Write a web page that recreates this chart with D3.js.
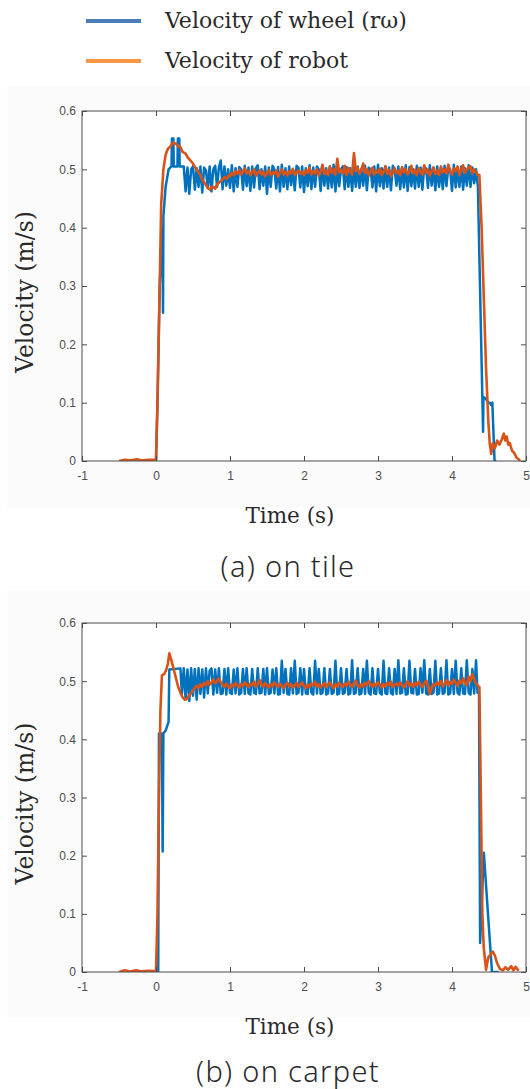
<!DOCTYPE html>
<html>
<head>
<meta charset="utf-8">
<script src="https://cdn.jsdelivr.net/npm/d3@7"></script>
<style>
  body { margin: 0; background: #fff; }
  svg { display: block; }
</style>
</head>
<body>
<svg id="fig" width="530" height="1089"></svg>
<script>
// ---- Axes ----
const xTicks = [-1, 0, 1, 2, 3, 4, 5];
const xTickLabels = ["-1", "0", "1", "2", "3", "4", "5"];
const yTicks = [0, 0.1, 0.2, 0.3, 0.4, 0.5, 0.6];
const yTickLabels = ["0", "0.1", "0.2", "0.3", "0.4", "0.5", "0.6"];

const seriesNames = ["Velocity of wheel (r\u03c9)", "Velocity of robot"];
const captions = ["(a) on tile", "(b) on carpet"];

// Sample period of the steady-state recordings (s)
const sampleStep = 0.025;

// ---- (a) on tile ----
// [time (s), velocity (m/s)]
const tileWheelHead = [
  [-0.15, 0], [0, 0], [0.02, 0.1], [0.05, 0.3], [0.085, 0.4], [0.095, 0.254],
  [0.10, 0.42], [0.13, 0.47], [0.17, 0.5], [0.21, 0.505], [0.215, 0.553],
  [0.235, 0.553], [0.24, 0.505], [0.29, 0.505], [0.295, 0.553], [0.315, 0.553],
  [0.32, 0.505], [0.35, 0.505]
];
const tileWheelStart = 0.375;
const tileWheelSteady = [
  0.505,0.462,0.503,0.458,0.500,0.505,0.465,0.502,0.470,0.505,
  0.460,0.503,0.498,0.468,0.505,0.462,0.500,0.506,0.470,0.503,
  0.515,0.466,0.505,0.472,0.500,0.468,0.507,0.462,0.502,0.470,
  0.504,0.500,0.465,0.506,0.471,0.503,0.463,0.505,0.469,0.502,
  0.507,0.466,0.500,0.472,0.505,0.458,0.503,0.470,0.506,0.500,
  0.467,0.504,0.462,0.508,0.470,0.502,0.466,0.505,0.473,0.500,
  0.464,0.506,0.503,0.469,0.505,0.461,0.502,0.471,0.507,0.466,
  0.503,0.470,0.505,0.500,0.463,0.506,0.472,0.502,0.467,0.505,
  0.469,0.508,0.462,0.503,0.471,0.500,0.505,0.466,0.504,0.470,
  0.502,0.463,0.507,0.470,0.505,0.468,0.501,0.472,0.506,0.464,
  0.503,0.500,0.469,0.505,0.462,0.508,0.471,0.502,0.467,0.505,
  0.470,0.503,0.464,0.506,0.500,0.472,0.505,0.466,0.502,0.469,
  0.507,0.463,0.504,0.471,0.500,0.467,0.506,0.470,0.503,0.465,
  0.505,0.501,0.468,0.507,0.472,0.503,0.464,0.505,0.470,0.502,
  0.466,0.506,0.471,0.504,0.500,0.463,0.508,0.469,0.503,0.470,
  0.505,0.465,0.502,0.472,0.507,0.470,0.503,0.476,0.500
];
const tileWheelTail = [
  [4.35, 0.47], [4.42, 0.05], [4.425, 0.11], [4.46, 0.106], [4.49, 0.1],
  [4.51, 0.1], [4.53, 0.096], [4.545, 0.1], [4.575, 0], [4.6, 0]
];

const tileRobotHead = [
  [-0.5, 0], [-0.42, 0.002], [-0.34, 0.001], [-0.26, 0.003], [-0.18, 0.001],
  [-0.1, 0.002], [0, 0.002], [0.02, 0.1], [0.05, 0.3], [0.07, 0.44],
  [0.1, 0.5], [0.13, 0.525], [0.16, 0.535], [0.2, 0.54], [0.23, 0.546],
  [0.27, 0.544], [0.3, 0.54], [0.33, 0.538], [0.36, 0.53], [0.4, 0.527],
  [0.43, 0.52], [0.46, 0.516], [0.5, 0.51], [0.53, 0.503], [0.56, 0.498],
  [0.6, 0.49], [0.63, 0.481], [0.66, 0.476], [0.7, 0.468], [0.73, 0.465],
  [0.76, 0.471], [0.8, 0.467], [0.83, 0.475], [0.86, 0.478], [0.9, 0.483],
  [0.93, 0.487], [0.96, 0.484], [0.98, 0.49]
];
const tileRobotStart = 1.0;
const tileRobotSteady = [
  0.488,0.494,0.490,0.497,0.492,0.499,0.491,0.496,0.502,0.493,
  0.497,0.490,0.495,0.500,0.489,0.494,0.498,0.491,0.496,0.488,
  0.493,0.499,0.490,0.495,0.492,0.498,0.487,0.494,0.500,0.491,
  0.496,0.489,0.497,0.493,0.501,0.490,0.495,0.498,0.492,0.496,
  0.490,0.499,0.494,0.503,0.491,0.497,0.493,0.500,0.489,0.496,
  0.508,0.492,0.498,0.490,0.505,0.494,0.500,0.491,0.518,0.495,
  0.499,0.493,0.506,0.490,0.502,0.496,0.491,0.528,0.497,0.503,
  0.492,0.499,0.510,0.494,0.500,0.489,0.497,0.503,0.491,0.498,
  0.494,0.501,0.490,0.496,0.505,0.492,0.499,0.488,0.495,0.502,
  0.493,0.498,0.490,0.504,0.495,0.500,0.491,0.497,0.506,0.493,
  0.499,0.490,0.502,0.496,0.491,0.507,0.494,0.500,0.489,0.497,
  0.503,0.492,0.498,0.490,0.505,0.495,0.500,0.493,0.508,0.496,
  0.491,0.502,0.497,0.505,0.490,0.500,0.507,0.494,0.499,0.503,
  0.505,0.493,0.500,0.496,0.490
];
const tileRobotTail = [
  [4.37, 0.49], [4.4, 0.4], [4.43, 0.28], [4.46, 0.16], [4.49, 0.07],
  [4.51, 0.03], [4.53, 0.012], [4.55, 0.03], [4.58, 0.022], [4.61, 0.035],
  [4.64, 0.028], [4.67, 0.036], [4.7, 0.047], [4.72, 0.035], [4.74, 0.042],
  [4.76, 0.028], [4.78, 0.031], [4.81, 0.018], [4.84, 0.014], [4.87, 0.006],
  [4.9, 0.003], [4.92, 0]
];

// ---- (b) on carpet ----
const carpetWheelHead = [
  [-0.15, 0], [0, 0], [0.03, 0], [0.04, 0.41], [0.08, 0.41], [0.09, 0.207],
  [0.1, 0.41], [0.13, 0.415], [0.17, 0.43], [0.18, 0.52], [0.33, 0.522]
];
const carpetWheelStart = 0.35;
const carpetWheelSteady = [
  0.478,0.522,0.470,0.520,0.466,0.522,0.475,0.521,0.468,0.522,
  0.478,0.520,0.472,0.522,0.479,0.518,0.522,0.477,0.520,0.480,
  0.522,0.478,0.479,0.521,0.477,0.522,0.480,0.478,0.520,0.479,
  0.522,0.477,0.480,0.521,0.478,0.522,0.479,0.477,0.521,0.480,
  0.478,0.522,0.479,0.480,0.521,0.477,0.522,0.478,0.480,0.520,
  0.479,0.522,0.477,0.478,0.535,0.480,0.521,0.478,0.477,0.522,
  0.479,0.535,0.478,0.480,0.522,0.477,0.521,0.479,0.478,0.522,
  0.480,0.477,0.535,0.479,0.521,0.478,0.480,0.522,0.477,0.479,
  0.521,0.478,0.480,0.535,0.477,0.479,0.522,0.478,0.480,0.521,
  0.477,0.479,0.536,0.478,0.480,0.522,0.477,0.479,0.521,0.478,
  0.535,0.480,0.477,0.522,0.479,0.478,0.521,0.480,0.477,0.535,
  0.479,0.478,0.522,0.480,0.477,0.521,0.478,0.536,0.479,0.480,
  0.522,0.477,0.478,0.535,0.480,0.479,0.521,0.477,0.478,0.522,
  0.480,0.536,0.479,0.477,0.521,0.478,0.480,0.535,0.477,0.479,
  0.522,0.478,0.480,0.536,0.477,0.479,0.521,0.478,0.535,0.480,
  0.477,0.522,0.479,0.478,0.536,0.480,0.477,0.521,0.479,0.536
];
const carpetWheelTail = [
  [4.345, 0.48], [4.365, 0.48], [4.38, 0.05], [4.43, 0.205], [4.54, 0], [4.63, 0]
];

const carpetRobotHead = [
  [-0.5, 0], [-0.42, 0.003], [-0.35, 0.001], [-0.27, 0.003], [-0.2, 0.001],
  [-0.1, 0.002], [0, 0.001], [0.02, 0.1], [0.04, 0.3], [0.06, 0.45],
  [0.08, 0.51], [0.11, 0.512], [0.14, 0.52], [0.16, 0.53], [0.18, 0.548],
  [0.21, 0.535], [0.24, 0.52], [0.27, 0.505], [0.3, 0.49], [0.33, 0.48],
  [0.36, 0.472], [0.39, 0.468], [0.42, 0.47], [0.45, 0.476], [0.48, 0.48],
  [0.51, 0.486], [0.53, 0.49]
];
const carpetRobotStart = 0.55;
const carpetRobotSteady = [
  0.492,0.488,0.495,0.490,0.497,0.493,0.500,0.494,0.498,0.503,
  0.496,0.500,0.505,0.498,0.494,0.490,0.496,0.492,0.488,0.494,
  0.491,0.497,0.493,0.489,0.495,0.492,0.498,0.494,0.490,0.496,
  0.493,0.499,0.491,0.495,0.502,0.494,0.490,0.497,0.493,0.489,
  0.495,0.491,0.498,0.494,0.490,0.496,0.492,0.488,0.494,0.497,
  0.491,0.495,0.489,0.493,0.497,0.490,0.494,0.498,0.492,0.488,
  0.494,0.490,0.496,0.493,0.499,0.491,0.495,0.489,0.493,0.497,
  0.490,0.494,0.498,0.492,0.488,0.495,0.491,0.497,0.493,0.490,
  0.496,0.492,0.499,0.494,0.490,0.496,0.501,0.493,0.489,0.495,
  0.491,0.497,0.493,0.500,0.495,0.490,0.496,0.492,0.498,0.494,
  0.489,0.495,0.491,0.497,0.493,0.499,0.490,0.494,0.496,0.492,
  0.498,0.493,0.489,0.495,0.500,0.492,0.496,0.490,0.497,0.493,
  0.499,0.494,0.490,0.496,0.501,0.493,0.478,0.488,0.495,0.492,
  0.498,0.494,0.500,0.491,0.496,0.502,0.493,0.499,0.495,0.503,
  0.497,0.492,0.501,0.496,0.505,0.498,0.493,0.508,0.500,0.512,
  0.503,0.496,0.492
];
const carpetRobotTail = [
  [4.37, 0.49], [4.39, 0.3], [4.41, 0.1], [4.43, 0.04], [4.46, 0.004],
  [4.49, 0.025], [4.52, 0.03], [4.55, 0.035], [4.58, 0.028], [4.61, 0.015],
  [4.65, 0.005], [4.69, 0.003], [4.72, 0.008], [4.76, 0.004], [4.8, 0.01],
  [4.83, 0.003], [4.86, 0.009], [4.9, 0.002]
];

// ---- Assemble series ----
function assemble(head, start, steady, tail) {
  return head
    .concat(steady.map((v, i) => [start + i * sampleStep, v]))
    .concat(tail);
}

const panels = [
  {
    caption: captions[0], top: 111, bottom: 461,
    timeY: 523, captionY: 577, bgTop: 86, bgBottom: 508,
    wheel: assemble(tileWheelHead, tileWheelStart, tileWheelSteady, tileWheelTail),
    robot: assemble(tileRobotHead, tileRobotStart, tileRobotSteady, tileRobotTail)
  },
  {
    caption: captions[1], top: 623, bottom: 972,
    timeY: 1034, captionY: 1082, bgTop: 591, bgBottom: 1017,
    wheel: assemble(carpetWheelHead, carpetWheelStart, carpetWheelSteady, carpetWheelTail),
    robot: assemble(carpetRobotHead, carpetRobotStart, carpetRobotSteady, carpetRobotTail)
  }
];

// ---- Drawing ----
const svg = d3.select("#fig");
const plotLeft = 82, plotRight = 526;
const wheelColor = "#0072BD", robotColor = "#D95319";
const axisColor = "#4d4d4d";
const serif = "'DejaVu Serif', serif";
const sans = "'Liberation Sans', Arial, sans-serif";
const textColor = "#2a2a2a";

// Legend
const legend = svg.append("g");
const legendColors = ["#4a7ebb", "#f79646"];
[21, 61].forEach((ly, i) => {
  legend.append("line")
    .attr("x1", 86).attr("x2", 141).attr("y1", ly).attr("y2", ly)
    .attr("stroke", legendColors[i]).attr("stroke-width", 4);
  legend.append("text")
    .attr("x", 165).attr("y", ly + 7)
    .attr("font-family", serif).attr("font-size", 22)
    .attr("fill", textColor)
    .text(seriesNames[i]);
});

panels.forEach(p => {
  const g = svg.append("g");
  const x = d3.scaleLinear().domain([-1, 5]).range([plotLeft, plotRight]);
  const y = d3.scaleLinear().domain([0, 0.6]).range([p.bottom, p.top]);

  // figure background
  g.append("rect")
    .attr("x", 7).attr("y", p.bgTop)
    .attr("width", 530 - 7).attr("height", p.bgBottom - p.bgTop)
    .attr("fill", "#fbfbfb");
  g.append("rect")
    .attr("x", plotLeft).attr("y", p.top)
    .attr("width", plotRight - plotLeft).attr("height", p.bottom - p.top)
    .attr("fill", "#fff");

  const clipId = "clip" + p.top;
  g.append("clipPath").attr("id", clipId).append("rect")
    .attr("x", plotLeft).attr("y", p.top - 2)
    .attr("width", plotRight - plotLeft).attr("height", p.bottom - p.top + 2);

  const line = d3.line().x(d => x(d[0])).y(d => y(d[1]));
  const lines = g.append("g").attr("clip-path", `url(#${clipId})`);
  lines.append("path").datum(p.wheel)
    .attr("d", line).attr("fill", "none")
    .attr("stroke", wheelColor).attr("stroke-width", 2.5)
    .attr("stroke-linejoin", "round");
  lines.append("path").datum(p.robot)
    .attr("d", line).attr("fill", "none")
    .attr("stroke", robotColor).attr("stroke-width", 2.6)
    .attr("stroke-linejoin", "round");

  // axes: inward ticks, box on
  const styleAxis = sel => {
    sel.select(".domain").remove();
    sel.selectAll(".tick line").attr("stroke", axisColor);
    sel.selectAll(".tick text")
      .attr("fill", axisColor).attr("font-family", sans).attr("font-size", 12);
  };
  g.append("g").attr("transform", `translate(0,${p.bottom})`)
    .call(d3.axisBottom(x).tickValues(xTicks)
      .tickFormat((d, i) => xTickLabels[i]).tickSize(-5).tickPadding(10))
    .call(styleAxis);
  g.append("g").attr("transform", `translate(0,${p.top})`)
    .call(d3.axisTop(x).tickValues(xTicks).tickFormat("").tickSize(-5))
    .call(styleAxis);
  g.append("g").attr("transform", `translate(${plotLeft},0)`)
    .call(d3.axisLeft(y).tickValues(yTicks)
      .tickFormat((d, i) => yTickLabels[i]).tickSize(-5).tickPadding(6))
    .call(styleAxis);
  g.append("g").attr("transform", `translate(${plotRight},0)`)
    .call(d3.axisRight(y).tickValues(yTicks).tickFormat("").tickSize(-5))
    .call(styleAxis);

  g.append("rect")
    .attr("x", plotLeft).attr("y", p.top)
    .attr("width", plotRight - plotLeft).attr("height", p.bottom - p.top)
    .attr("fill", "none").attr("stroke", axisColor).attr("stroke-width", 1);

  // axis titles
  g.append("text")
    .attr("transform", `translate(33,${(p.top + p.bottom) / 2 + 6}) rotate(-90)`)
    .attr("text-anchor", "middle")
    .attr("font-family", serif).attr("font-size", 23.5).attr("fill", textColor)
    .text("Velocity (m/s)");
  g.append("text")
    .attr("x", 290).attr("y", p.timeY).attr("text-anchor", "middle")
    .attr("font-family", serif).attr("font-size", 21.5).attr("fill", textColor)
    .text("Time (s)");

  // sub-caption
  svg.append("text")
    .attr("x", 288).attr("y", p.captionY).attr("text-anchor", "middle")
    .attr("font-family", "'Noto Sans', sans-serif").attr("font-weight", 300)
    .attr("font-size", 29).attr("letter-spacing", 1.3).attr("fill", textColor)
    .text(p.caption);
});
</script>
</body>
</html>
